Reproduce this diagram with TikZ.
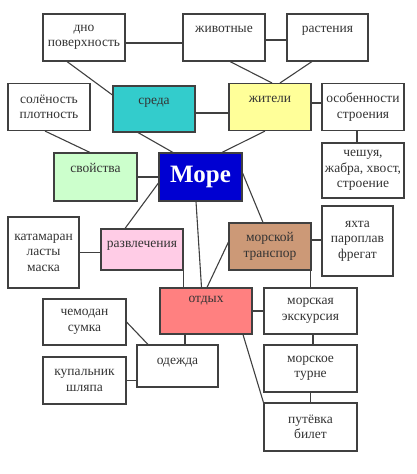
\documentclass[tikz,border=0pt]{standalone}
\usepackage{fontspec}
\setmainfont{Liberation Serif}
\definecolor{seaTeal}{RGB}{51,204,204}
\definecolor{seaYellow}{RGB}{255,255,153}
\definecolor{seaGreen}{RGB}{204,255,204}
\definecolor{seaBlue}{RGB}{0,0,210}
\definecolor{seaPink}{RGB}{255,204,230}
\definecolor{seaBrown}{RGB}{204,153,119}
\definecolor{seaSalmon}{RGB}{255,128,128}

\begin{document}
\begin{tikzpicture}[x=1pt,y=-1pt,line width=1.1pt,
box/.style={draw=black!75,rectangle,inner sep=0pt,minimum width=82pt,minimum height=47pt,align=center,text=black!80,font=\fontsize{13.5}{15.5}\selectfont},
lift/.style={text height=10pt,text depth=#1},
link/.style={draw=black!75}]

\useasboundingbox (0,0) rectangle (417,474);

% upper row
\draw (84,37.5) node[box] (dno) {дно\\поверхность};
\draw (224,37.5) node[box,lift=20pt] (zhiv) {животные};
\draw (327.5,37.5) node[box,minimum width=81pt,lift=20pt] (rast) {растения};
\draw (154,109) node[box,fill=seaTeal,minimum height=46pt,lift=20pt] (sreda) {среда};
\draw (270,107) node[box,fill=seaYellow,lift=20pt] (zhiteli) {жители};
\draw (363,107) node[box] (osob) {особенности\\строения};
\draw (49,107) node[box] (sol) {солёность\\плотность};

% middle
\draw (95.5,177) node[box,fill=seaGreen,minimum width=83pt,minimum height=48pt,lift=20pt] (svoistva) {свойства};
\draw (200.5,177) node[box,fill=seaBlue,minimum width=83pt,minimum height=48pt,text=white,font=\fontsize{25}{28}\selectfont\bfseries] (more) {Море};
\draw (363,170.5) node[box,minimum height=55pt] (chesh) {чешуя,\\жабра, хвост,\\строение};
\draw (43.5,252.5) node[box,minimum width=71pt,minimum height=71pt] (katam) {катамаран\\ласты\\маска};
\draw (142,249.5) node[box,fill=seaPink,minimum height=41pt,lift=14pt] (razvl) {развлечения};
\draw (270,246.5) node[box,fill=seaBrown] (transp) {морской\\транспор};
\draw (357.5,241) node[box,minimum width=71pt,minimum height=70pt] (yakhta) {яхта\\пароплав\\фрегат};

% lower part
\draw (206,311) node[box,fill=seaSalmon,minimum width=92pt,minimum height=46pt,lift=28pt] (otdykh) {отдых};
\draw (310.5,311) node[box,minimum width=93pt,minimum height=46pt] (ekskurs) {морская\\экскурсия};
\draw (84.5,322) node[box,minimum width=83pt,minimum height=46pt] (chemodan) {чемодан\\сумка};
\draw (177.5,366) node[box,minimum width=81pt,minimum height=42pt,lift=14pt] (odezhda) {одежда};
\draw (84.5,380.5) node[box,minimum width=83pt] (kupal) {купальник\\шляпа};
\draw (310.5,368.5) node[box,minimum width=93pt] (turne) {морское\\турне};
\draw (310.5,427) node[box,minimum width=93pt,minimum height=48pt] (putevka) {путёвка\\билет};

% connectors
\draw[link] ([yshift=-5.5pt]dno.east) -- ([yshift=-5.5pt]zhiv.west);
\draw[link] ([yshift=-2.5pt]zhiv.east) -- ([yshift=-2.5pt]rast.west);
\draw[link] ([xshift=6pt]zhiv.south) -- ([xshift=2pt]zhiteli.north);
\draw[link] ([xshift=-15.5pt]rast.south) -- ([xshift=10pt]zhiteli.north);
\draw[link] ([xshift=-17pt]dno.south) -- ([yshift=14pt]sreda.west);
\draw[link] ([yshift=-4pt]sreda.east) -- ([yshift=-6pt]zhiteli.west);
\draw[link] ([yshift=4pt]zhiteli.east) -- ([yshift=4pt]osob.west);
\draw[link] ([xshift=-6pt]osob.south) -- ([xshift=-6pt]chesh.north);
\draw[link] ([xshift=-16pt]sreda.south) -- ([xshift=-27.5pt]more.north);
\draw[link] ([xshift=-5pt]zhiteli.south) -- ([xshift=21.5pt]more.north);
\draw[link] ([xshift=-4pt]sol.south) -- ([xshift=-5.5pt]svoistva.north);
\draw[link] (svoistva.east) -- (more.west);
\draw[link] ([yshift=-6pt]more.west) -- ([xshift=-17pt]razvl.north);
\draw[link] (katam.east) -- (katam.east -| razvl.west);
\draw[link] (razvl.south east) -- (razvl.south east |- otdykh.north);
\draw[link] ([xshift=-4.5pt]more.south) -- ([xshift=-4.5pt]otdykh.north);
\draw[link] ([yshift=4pt]more.east) -- ([xshift=-7pt]transp.north);
\draw[link] ([yshift=4.5pt]transp.west) -- ([xshift=1pt]otdykh.north);
\draw[link] ([yshift=6.5pt]transp.east) -- ([yshift=1pt]yakhta.west);
\draw[link] (ekskurs.north |- transp.south) -- (ekskurs.north);
\draw[link] (otdykh.east) -- (ekskurs.west);
\draw[link] ([xshift=2.5pt]ekskurs.south) -- ([xshift=2.5pt]turne.north);
\draw[link] (turne.south) -- (putevka.north);
\draw[link] ([xshift=37pt]otdykh.south) -- (putevka.north west);
\draw[link] ([xshift=-21pt]otdykh.south) -- ([xshift=7.5pt]odezhda.north);
\draw[link] (chemodan.east) -- ([xshift=-29.5pt]odezhda.north);
\draw[link] (kupal.east) -- (kupal.east -| odezhda.west);

\end{tikzpicture}
\end{document}
